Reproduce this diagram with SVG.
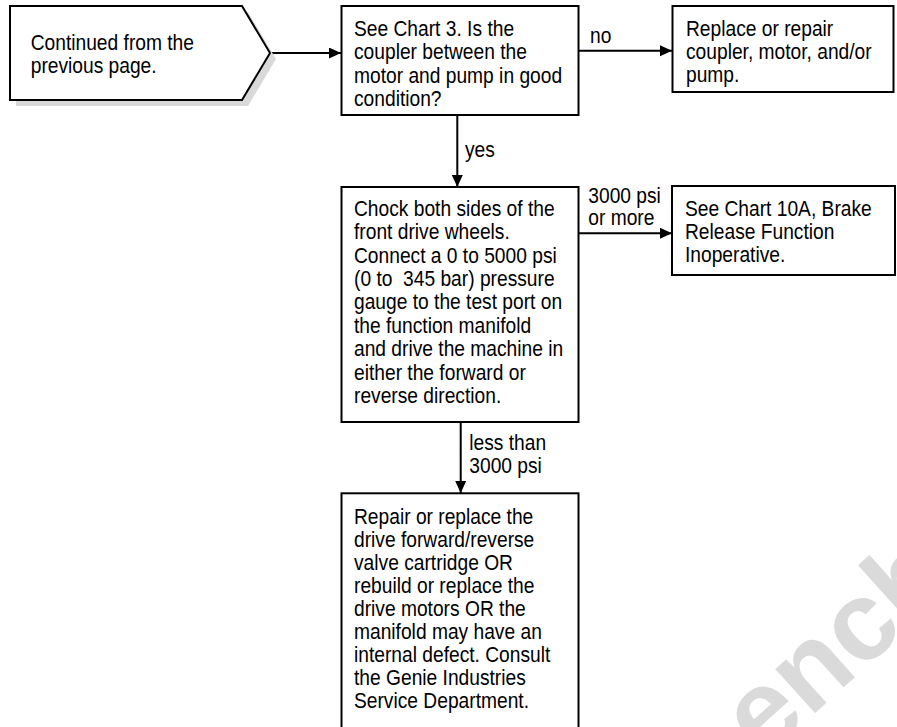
<svg xmlns="http://www.w3.org/2000/svg" width="897" height="727" viewBox="0 0 897 727">
<style>
.box{fill:#fff;stroke:#000;stroke-width:2}
.t{font-family:"Liberation Sans",Arial,sans-serif;font-size:22px;fill:#000}
.c{fill:none;stroke:#000;stroke-width:2}
.wm{font-family:"Liberation Sans",Arial,sans-serif;font-weight:bold;font-size:112px;fill:#dadada}
</style>
<defs>
<marker id="ah" markerUnits="userSpaceOnUse" markerWidth="13" markerHeight="12" refX="12" refY="5.5" orient="auto">
<path d="M0,0 L12,5.5 L0,11 z" fill="#000"/>
</marker>
</defs>
<rect width="897" height="727" fill="#fff"/>
<text class="wm" transform="translate(763,760) rotate(-42)">ench</text>
<g id="connectors">
<line class="c" x1="270" y1="53" x2="341" y2="53" marker-end="url(#ah)"/>
<line class="c" x1="578" y1="50.7" x2="672" y2="50.7" marker-end="url(#ah)"/>
<line class="c" x1="457.3" y1="115" x2="457.3" y2="187" marker-end="url(#ah)"/>
<line class="c" x1="578" y1="233.3" x2="672" y2="233.3" marker-end="url(#ah)"/>
<line class="c" x1="460.7" y1="422" x2="460.7" y2="493" marker-end="url(#ah)"/>
<text class="t" transform="matrix(0.873,0,0,1,590,43.3)">no</text>
<text class="t" transform="matrix(0.873,0,0,1,465,156.7)">yes</text>
<text class="t" transform="matrix(0.873,0,0,1,588.3,202.7)"><tspan x="0" y="0">3000 psi</tspan><tspan x="0" y="22.3">or more</tspan></text>
<text class="t" transform="matrix(0.873,0,0,1,469.3,450)"><tspan x="0" y="0">less than</tspan><tspan x="0" y="23.3">3000 psi</tspan></text>
</g>
<g id="start">
<polygon points="16,12 248,12 276,59 248,106 16,106" fill="#d9d9d9"/>
<polygon class="box" points="10,6 242,6 270,53 242,100 10,100"/>
<text class="t" transform="matrix(0.873,0,0,1,30.7,50)"><tspan x="0" y="0">Continued from the</tspan><tspan x="0" y="23">previous page.</tspan></text>
</g>
<g id="coupler">
<rect class="box" x="341.5" y="6" width="237" height="109"/>
<text class="t" transform="matrix(0.873,0,0,1,354,36)"><tspan x="0" y="0">See Chart 3. Is the</tspan><tspan x="0" y="23.35">coupler between the</tspan><tspan x="0" y="46.7">motor and pump in good</tspan><tspan x="0" y="70.05">condition?</tspan></text>
</g>
<g id="replace">
<rect class="box" x="672.5" y="6" width="221" height="86"/>
<text class="t" transform="matrix(0.873,0,0,1,686,36)"><tspan x="0" y="0">Replace or repair</tspan><tspan x="0" y="23.3">coupler, motor, and/or</tspan><tspan x="0" y="46">pump.</tspan></text>
</g>
<g id="chock">
<rect class="box" x="341.5" y="187" width="237" height="235"/>
<text class="t" transform="matrix(0.873,0,0,1,354,215.7)"><tspan x="0" y="0">Chock both sides of the</tspan><tspan x="0" y="23.45">front drive wheels.</tspan><tspan x="0" y="46.9">Connect a 0 to 5000 psi</tspan><tspan x="0" y="70.35">(0 to&#160; 345 bar) pressure</tspan><tspan x="0" y="93.8">gauge to the test port on</tspan><tspan x="0" y="117.25">the function manifold</tspan><tspan x="0" y="140.7">and drive the machine in</tspan><tspan x="0" y="164.15">either the forward or</tspan><tspan x="0" y="187.6">reverse direction.</tspan></text>
</g>
<g id="chart10a">
<rect class="box" x="672" y="186" width="223" height="89"/>
<text class="t" transform="matrix(0.873,0,0,1,685,216)"><tspan x="0" y="0">See Chart 10A, Brake</tspan><tspan x="0" y="23">Release Function</tspan><tspan x="0" y="46">Inoperative.</tspan></text>
</g>
<g id="repair">
<rect class="box" x="341.5" y="493.3" width="237" height="240"/>
<text class="t" transform="matrix(0.873,0,0,1,354,524.3)"><tspan x="0" y="0">Repair or replace the</tspan><tspan x="0" y="22.93">drive forward/reverse</tspan><tspan x="0" y="45.86">valve cartridge OR</tspan><tspan x="0" y="68.79">rebuild or replace the</tspan><tspan x="0" y="91.72">drive motors OR the</tspan><tspan x="0" y="114.65">manifold may have an</tspan><tspan x="0" y="137.58">internal defect. Consult</tspan><tspan x="0" y="160.51">the Genie Industries</tspan><tspan x="0" y="183.44">Service Department.</tspan></text>
</g>
</svg>
